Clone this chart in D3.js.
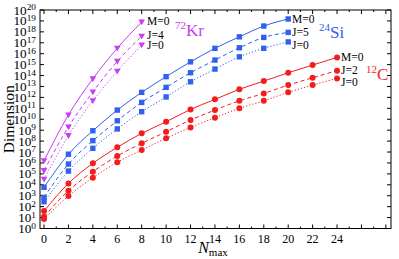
<!DOCTYPE html>
<html>
<head>
<meta charset="utf-8">
<script src="https://cdn.jsdelivr.net/npm/d3@7"></script>
<style>
  html, body { margin: 0; padding: 0; background: #fff; }
  svg { display: block; font-family: "Liberation Serif", "DejaVu Serif", serif; }
</style>
</head>
<body>
<svg id="chart" width="399" height="259"></svg>
<script>
/* Many-body basis dimension vs N_max for 12C, 24Si and 72Kr. */

// ---- data -------------------------------------------------------------
var nmaxKr = [0, 2, 4, 6, 8];
var krM0 = [1.6e6, 2.5e10, 5.0e13, 3.2e16, 8.0e18];
var krJ4 = [2.0e5, 2.0e9, 3.2e12, 2.0e15, 4.0e17];
var krJ0 = [3.2e4, 3.2e8, 5.0e11, 2.5e14, 6.3e16];

var nmaxSi = [0, 2, 4, 6, 8, 10, 12, 14, 16, 18, 20];
var siM0 = [5.9e3, 6.3e6, 8.9e8, 6.9e10, 2.9e12, 7.9e13, 1.8e15, 3.1e16, 3.5e17, 3.4e18, 1.5e19];
var siJ5 = [7.1e2, 7.9e5, 1.1e8, 7.2e9, 3.5e11, 8.3e12, 1.8e14, 2.6e15, 3.5e16, 3.1e17, 8.9e17];
var siJ0 = [2.8e2, 1.8e5, 2.2e7, 1.3e9, 4.9e10, 1.1e12, 2.7e13, 3.9e14, 5.2e15, 3.1e16, 1.2e17];

var nmaxC = [0, 2, 4, 6, 8, 10, 12, 14, 16, 18, 20, 22, 24];
var cM0 = [40, 1.35e4, 9.3e5, 2.7e7, 5.1e8, 5.9e9, 7.9e10, 6.6e11, 5.5e12, 3.1e13, 1.8e14, 9.1e14, 4.6e15];
var cJ2 = [12, 2.9e3, 1.6e5, 4.3e6, 6.2e7, 7.2e8, 8.5e9, 6.9e10, 4.9e11, 2.3e12, 1.35e13, 6.3e13, 2.8e14];
var cJ0 = [7.4, 9.3e2, 4.5e4, 1.15e6, 1.5e7, 1.8e8, 1.8e9, 1.4e10, 1.0e11, 4.9e11, 2.9e12, 1.35e13, 5.5e13];

var xTicks = [0, 2, 4, 6, 8, 10, 12, 14, 16, 18, 20, 22, 24];
var yExponents = d3.range(0, 21);

// ---- layout -----------------------------------------------------------
var CONFIG = {
  left: 40, right: 391, top: 10, bottom: 228.5,
  purple: '#c83cf2', blue: '#3060ee', red: '#f41c1c'
};

var nuclei = [
  { name: 'Kr', mass: '72', color: CONFIG.purple, marker: 'tri', nmax: nmaxKr,
    series: [{ label: 'M=0', values: krM0, dash: null },
             { label: 'J=4', values: krJ4, dash: '4,3' },
             { label: 'J=0', values: krJ0, dash: '1.2,2' }],
    labelX: 147, labelY: [25, 39, 49], isoX: 175, isoY: 36 },
  { name: 'Si', mass: '24', color: CONFIG.blue, marker: 'sq', nmax: nmaxSi,
    series: [{ label: 'M=0', values: siM0, dash: null },
             { label: 'J=5', values: siJ5, dash: '4,3' },
             { label: 'J=0', values: siJ0, dash: '1.2,2' }],
    labelX: 292, labelY: [23, 36, 49], isoX: 319, isoY: 38 },
  { name: 'C', mass: '12', color: CONFIG.red, marker: 'circ', nmax: nmaxC,
    series: [{ label: 'M=0', values: cM0, dash: null },
             { label: 'J=2', values: cJ2, dash: '4,3' },
             { label: 'J=0', values: cJ0, dash: '1.2,2' }],
    labelX: 341, labelY: [61, 74, 86], isoX: 366, isoY: 80 }
];

var svg = d3.select('#chart');
var x = d3.scaleLinear().domain([-0.33, 28.42]).range([CONFIG.left, CONFIG.right]);
var y = d3.scaleLog().domain([1, 1e20]).range([CONFIG.bottom, CONFIG.top]);

// ---- frame + ticks ----------------------------------------------------
var ax = svg.append('g').attr('stroke', '#000').attr('stroke-width', 1);
ax.append('rect')
  .attr('x', CONFIG.left).attr('y', CONFIG.top)
  .attr('width', CONFIG.right - CONFIG.left).attr('height', CONFIG.bottom - CONFIG.top)
  .attr('fill', 'none');

d3.range(0, 29).forEach(function (n) {
  var len = n % 2 === 0 ? 4 : 2;
  ax.append('line').attr('x1', x(n)).attr('x2', x(n))
    .attr('y1', CONFIG.bottom).attr('y2', CONFIG.bottom - len);
  ax.append('line').attr('x1', x(n)).attr('x2', x(n))
    .attr('y1', CONFIG.top).attr('y2', CONFIG.top + len);
});
yExponents.forEach(function (e) {
  var yy = y(Math.pow(10, e));
  ax.append('line').attr('x1', CONFIG.left).attr('x2', CONFIG.left + 4).attr('y1', yy).attr('y2', yy);
  ax.append('line').attr('x1', CONFIG.right).attr('x2', CONFIG.right - 4).attr('y1', yy).attr('y2', yy);
});

// tick labels
svg.append('g').selectAll('text').data(xTicks).join('text')
  .attr('x', function (d) { return x(d); })
  .attr('y', CONFIG.bottom + 14)
  .attr('text-anchor', 'middle').attr('font-size', 12)
  .text(function (d) { return d; });

// y labels are drawn a little wide, as in the original figure
var yl = svg.append('g').selectAll('text').data(yExponents).join('text')
  .attr('transform', function (e) {
    return 'translate(36,' + (y(Math.pow(10, e)) + 4.5) + ') scale(1.1,1)';
  })
  .attr('text-anchor', 'end').attr('font-size', 12);
yl.append('tspan').text('10');
yl.append('tspan').attr('dy', -4.5).attr('font-size', 8.5).text(function (e) { return e; });

// axis titles
svg.append('text')
  .attr('transform', 'translate(14,' + ((CONFIG.top + CONFIG.bottom) / 2) + ') rotate(-90)')
  .attr('text-anchor', 'middle').attr('font-size', 15.5).text('Dimension');
var xt = svg.append('text').attr('x', 213).attr('y', 253).attr('text-anchor', 'middle').attr('font-size', 16);
xt.append('tspan').attr('font-style', 'italic').text('N');
xt.append('tspan').attr('font-size', 11).attr('dy', 3).text('max');

// ---- series -----------------------------------------------------------
var line = d3.line().curve(d3.curveMonotoneX)
  .x(function (d) { return x(d[0]); })
  .y(function (d) { return y(d[1]); });

nuclei.forEach(function (nuc) {
  var g = svg.append('g');
  nuc.series.forEach(function (s, si) {
    var pts = nuc.nmax.map(function (n, i) { return [n, s.values[i]]; });
    g.append('path').attr('d', line(pts))
      .attr('fill', 'none').attr('stroke', nuc.color).attr('stroke-width', 1)
      .attr('stroke-dasharray', s.dash);
    var m = g.selectAll(null).data(pts);
    if (nuc.marker === 'circ') {
      m.join('circle').attr('cx', function (d) { return x(d[0]); })
        .attr('cy', function (d) { return y(d[1]); }).attr('r', 3).attr('fill', nuc.color);
    } else if (nuc.marker === 'sq') {
      m.join('rect').attr('x', function (d) { return x(d[0]) - 2.7; })
        .attr('y', function (d) { return y(d[1]) - 2.7; })
        .attr('width', 5.4).attr('height', 5.4).attr('fill', nuc.color);
    } else {
      m.join('path').attr('d', 'M-3.3,-2.5L3.3,-2.5L0,3.3Z')
        .attr('transform', function (d) { return 'translate(' + x(d[0]) + ',' + y(d[1]) + ')'; })
        .attr('fill', nuc.color);
    }
    svg.append('text').attr('x', nuc.labelX).attr('y', nuc.labelY[si])
      .attr('font-size', 11.5).text(s.label);
  });
  var iso = svg.append('text').attr('x', nuc.isoX).attr('y', nuc.isoY)
    .attr('fill', nuc.color).attr('font-size', 17);
  iso.append('tspan').attr('font-size', 11).attr('dy', -7).text(nuc.mass);
  iso.append('tspan').attr('dy', 7).text(nuc.name);
});
</script>
</body>
</html>
